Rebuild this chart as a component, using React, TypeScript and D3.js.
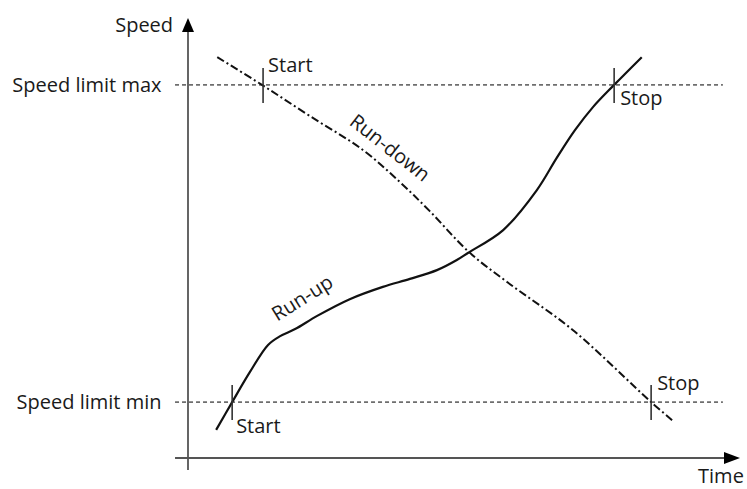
import React from "react";
import * as d3 from "d3";

const runUpTime = [5.1, 8.0, 11.2, 14.5, 16.7, 19.4, 23.4, 29.3, 35.3, 40.2, 45.1, 48.7, 50.7, 57.1, 63.2, 66.8, 70.1, 73.4, 77.2, 82.2];
const runUpSpeed = [6.4, 12.7, 19.5, 25.7, 27.7, 29.3, 32.3, 36.1, 38.9, 40.7, 42.7, 45.0, 46.6, 51.8, 60.9, 68.2, 74.5, 79.8, 84.8, 91.1];

const runDownTime = [5.3, 13.4, 22.1, 31.7, 38.4, 43.8, 50.9, 57.8, 69.7, 83.9, 87.7];
const runDownSpeed = [91.1, 84.8, 77.7, 70.0, 62.7, 56.1, 46.8, 40.0, 29.1, 12.7, 8.6];

const limitLabels = ["Speed limit min", "Speed limit max"];
const limitValues = [12.7, 84.8];

const markerLabels = ["Start", "Stop", "Start", "Stop"];
const markerTimes = [8.0, 77.2, 13.6, 83.9];
const markerSpeeds = [12.7, 84.8, 84.8, 12.7];

const axisLabels = ["Time", "Speed"];

const W = 747;
const H = 489;

export default function App() {
  const x = d3.scaleLinear().domain([0, 100]).range([188, 740]);
  const y = d3.scaleLinear().domain([0, 100]).range([458, 18]);

  const line = d3
    .line<[number, number]>()
    .x((d) => x(d[0]))
    .y((d) => y(d[1]))
    .curve(d3.curveCatmullRom.alpha(0.5));

  const upPts = runUpTime.map((t, i) => [t, runUpSpeed[i]] as [number, number]);
  const downPts = runDownTime.map((t, i) => [t, runDownSpeed[i]] as [number, number]);

  const font = "'Open Sans', sans-serif";
  const fs = 20;
  const textColor = "#1a1a1a";

  const x0 = x(0);
  const y0 = y(0);

  const markerOffsets: [number, number][] = [
    [4, 31],
    [6, 20],
    [5, -13],
    [6, -12],
  ];

  return (
    <svg width={W} height={H} style={{ position: "absolute", left: 0, top: 0, background: "#fff" }}>
      {limitValues.map((v, i) => (
        <g key={"lim" + i}>
          <line
            x1={x(-2.35)}
            x2={x(96.9)}
            y1={y(v)}
            y2={y(v)}
            stroke="#6e6e6e"
            strokeWidth={1.6}
            strokeDasharray="4,3"
          />
          <text
            x={x(-4.8)}
            y={y(v) + 7}
            textAnchor="end"
            fontFamily={font}
            fontSize={fs}
            fill={textColor}
          >
            {limitLabels[i]}
          </text>
        </g>
      ))}

      <line x1={x(-2.35)} x2={x(97.2)} y1={y0} y2={y0} stroke="#555" strokeWidth={1.8} />
      <path
        d={`M${x(100)},${y0} L${x(97.1)},${y0 - 6} L${x(97.1)},${y0 + 6} Z`}
        fill="#000"
      />
      <line x1={x0} x2={x0} y1={y(-2.7)} y2={y(97)} stroke="#555" strokeWidth={1.8} />
      <path
        d={`M${x0},${y(100)} L${x0 - 6},${y(96.8)} L${x0 + 6},${y(96.8)} Z`}
        fill="#000"
      />
      <text x={x(100.7)} y={y(-5.7)} textAnchor="end" fontFamily={font} fontSize={fs} fill={textColor}>
        {axisLabels[0]}
      </text>
      <text x={x(-2.7)} y={y(96.8)} textAnchor="end" fontFamily={font} fontSize={fs} fill={textColor}>
        {axisLabels[1]}
      </text>

      <path d={line(upPts) || ""} fill="none" stroke="#111" strokeWidth={2.2} />
      <path
        d={line(downPts) || ""}
        fill="none"
        stroke="#111"
        strokeWidth={2}
        strokeDasharray="8,3,2,3"
      />

      {markerTimes.map((t, i) => (
        <g key={"m" + i}>
          <line
            x1={x(t)}
            x2={x(t)}
            y1={y(markerSpeeds[i]) - 17}
            y2={y(markerSpeeds[i]) + 18}
            stroke="#333"
            strokeWidth={1.6}
          />
          <text
            x={x(t) + markerOffsets[i][0]}
            y={y(markerSpeeds[i]) + markerOffsets[i][1]}
            fontFamily={font}
            fontSize={fs}
            fill={textColor}
          >
            {markerLabels[i]}
          </text>
        </g>
      ))}

      <text
        transform={`translate(${x(20.7)},${y(36.4)}) rotate(-32)`}
        textAnchor="middle"
        dy="0.35em"
        fontFamily={font}
        fontSize={fs}
        fill={textColor}
      >
        Run-up
      </text>
      <text
        transform={`translate(${x(36.6)},${y(70.5)}) rotate(38)`}
        textAnchor="middle"
        dy="0.35em"
        fontFamily={font}
        fontSize={fs}
        fill={textColor}
      >
        Run-down
      </text>
    </svg>
  );
}
